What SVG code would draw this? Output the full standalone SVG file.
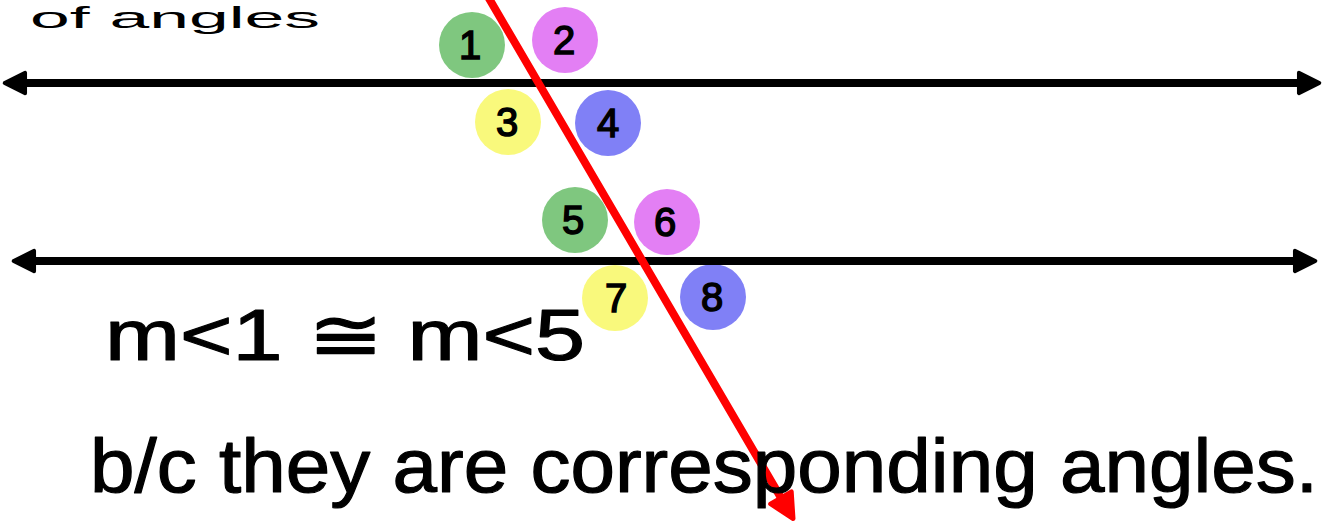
<svg xmlns="http://www.w3.org/2000/svg" width="1324" height="531" viewBox="0 0 1324 531">
<style>
.hand{font-family:"Liberation Sans",Arial,sans-serif;fill:#000;stroke:#000;stroke-width:1.2;stroke-linejoin:round;}
.num{font-family:"Liberation Sans",Arial,sans-serif;font-size:40px;fill:#000;stroke:#000;stroke-width:1.5;text-anchor:middle;}
.blk{stroke:#000;stroke-width:8;fill:none;stroke-linecap:round;}
.red{stroke:#ff0000;stroke-width:8;fill:none;stroke-linecap:round;}
.g{fill:#7fc77f;}.v{fill:#e37ff4;}.y{fill:#f9f97c;}.b{fill:#8080f6;}
</style>
<defs>
<marker id="ab" viewBox="0 0 10 10" refX="3" refY="5" markerWidth="3.2" markerHeight="3.2" orient="auto-start-reverse" markerUnits="strokeWidth">
<path d="M1,1 L9,5 L1,9 Z" fill="#000" stroke="#000" stroke-width="1.5" stroke-linejoin="round"/>
</marker>
<marker id="ar" viewBox="0 0 10 10" refX="3" refY="5" markerWidth="3.8" markerHeight="3.8" orient="auto" markerUnits="strokeWidth">
<path d="M1,1 L9,5 L1,9 Z" fill="#ff0000" stroke="#ff0000" stroke-width="1.5" stroke-linejoin="round"/>
</marker>
</defs>
<text x="30" y="28" font-family="Liberation Sans, Arial, sans-serif" font-size="30" fill="#000" textLength="290" lengthAdjust="spacingAndGlyphs">of angles</text>
<g id="angles">
<g id="a1"><circle class="g" cx="472" cy="45" r="33"/><text class="num" x="470" y="59">1</text></g>
<g id="a2"><circle class="v" cx="565" cy="40" r="33"/><text class="num" x="564" y="54">2</text></g>
<g id="a3"><circle class="y" cx="508" cy="122" r="33"/><text class="num" x="507" y="136">3</text></g>
<g id="a4"><circle class="b" cx="608" cy="123" r="33"/><text class="num" x="608" y="137">4</text></g>
<g id="a5"><circle class="g" cx="575" cy="220" r="33"/><text class="num" x="573" y="234">5</text></g>
<g id="a6"><circle class="v" cx="667" cy="222" r="33"/><text class="num" x="665" y="236">6</text></g>
<g id="a7"><circle class="y" cx="615" cy="298" r="33"/><text class="num" x="616" y="312">7</text></g>
<g id="a8"><circle class="b" cx="713" cy="297" r="33"/><text class="num" x="712" y="311">8</text></g>
</g>
<g id="connectors">
<line id="line1" class="blk" x1="20" y1="83" x2="1304" y2="83" marker-start="url(#ab)" marker-end="url(#ab)"/>
<line id="line2" class="blk" x1="29" y1="261" x2="1300" y2="261" marker-start="url(#ab)" marker-end="url(#ab)"/>
<line id="transversal" class="red" x1="487" y1="-5" x2="784" y2="503" marker-end="url(#ar)"/>
</g>
<text class="hand" x="105" y="360" font-size="72" textLength="480" lengthAdjust="spacingAndGlyphs">m&lt;1 ≅ m&lt;5</text>
<text class="hand" x="90" y="492" font-size="76" textLength="1228" lengthAdjust="spacingAndGlyphs">b/c they are corresponding angles.</text>
</svg>
